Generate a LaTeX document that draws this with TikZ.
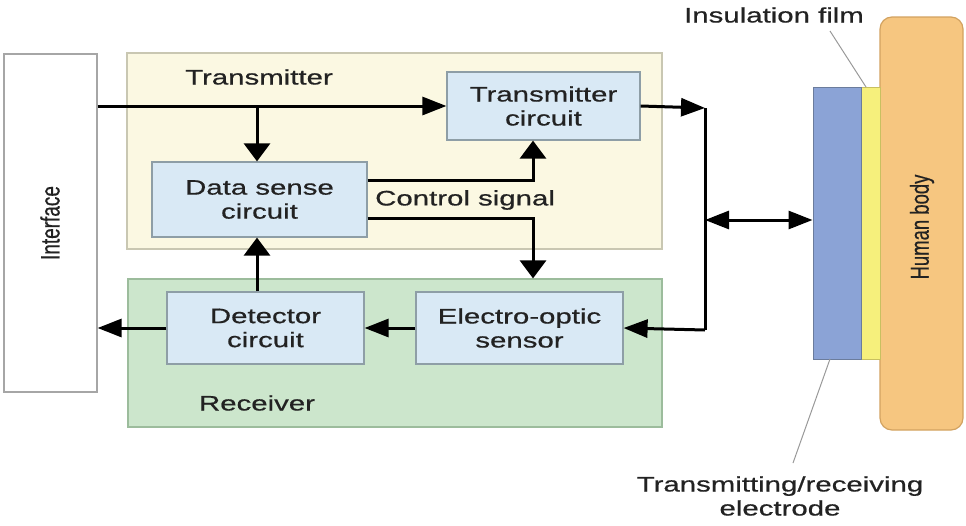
\documentclass[tikz,border=0pt]{standalone}
\usepackage{fontspec}
\setmainfont{Liberation Sans}
\newfontfamily\widefont[FakeStretch=1.4,FakeBold=0.6]{Liberation Sans}
\newfontfamily\rotfont[FakeBold=0.6]{Liberation Sans}
\usetikzlibrary{arrows.meta}
\definecolor{txtc}{HTML}{222222}
\definecolor{txfill}{HTML}{FBF8E2}
\definecolor{txdraw}{HTML}{C9C7B2}
\definecolor{rxfill}{HTML}{CCE6CC}
\definecolor{rxdraw}{HTML}{9CBC9C}
\definecolor{bxfill}{HTML}{D9E9F5}
\definecolor{bxdraw}{HTML}{8E9EA6}
\definecolor{elfill}{HTML}{8BA3D6}
\definecolor{eldraw}{HTML}{6B7C9C}
\definecolor{flfill}{HTML}{F6F07C}
\definecolor{fldraw}{HTML}{C8C060}
\definecolor{bdfill}{HTML}{F6C680}
\definecolor{bddraw}{HTML}{D2A260}
\tikzset{
  lbl/.style={text=txtc, font=\widefont\fontsize{21}{24}\selectfont, inner sep=0pt},
  inbox/.style={draw=bxdraw, fill=bxfill, line width=1.2pt, align=center, text=txtc,
    font=\widefont\fontsize{21}{24}\selectfont, inner sep=0pt},
  conn/.style={line width=3pt, black},
  htip/.tip={Triangle[length=24pt,width=18pt]},
  vtip/.tip={Triangle[length=18pt,width=26pt]},
  harr/.style={conn, -htip},
  varr/.style={conn, -vtip},
  leader/.style={draw=gray!80, line width=1pt}
}
\begin{document}
\begin{tikzpicture}[x=1pt,y=-1pt]
\useasboundingbox (0,0) rectangle (966,525);
% group boxes
\node[draw=txdraw, fill=txfill, line width=1.2pt, minimum width=535pt, minimum height=196pt, inner sep=0pt] (tx) at (394.5,151) {};
\node[draw=rxdraw, fill=rxfill, line width=1.2pt, minimum width=534pt, minimum height=148pt, inner sep=0pt] (rx) at (395,353) {};
\node[draw=gray!70, fill=white, line width=1.2pt, minimum width=93pt, minimum height=338pt, inner sep=0pt] (iface) at (50.5,223) {};
\node[rotate=90, text=txtc, inner sep=0pt] (ifacet) at (50,223) {\scalebox{1}[1.4]{\rotfont\fontsize{19}{19}\selectfont Interface}};
% labels
\node[lbl] (txl) at (259,77) {Transmitter};
\node[lbl] (rxl) at (257,403) {Receiver};
\node[lbl, anchor=west] (ctl) at (375,200) {Control signal};
% inner boxes
\node[inbox, minimum width=193pt, minimum height=68pt] (txc) at (543.5,106) {Transmitter\\circuit};
\node[inbox, minimum width=215pt, minimum height=75pt] (ds) at (259.5,199.5) {Data sense\\circuit};
\node[inbox, minimum width=197pt, minimum height=72pt] (det) at (265.5,328) {Detector\\circuit};
\node[inbox, minimum width=207pt, minimum height=72pt] (eo) at (519.5,328) {Electro-optic\\sensor};
% electrode, film, body
\node[draw=bddraw, fill=bdfill, line width=1.2pt, rounded corners=12pt, minimum width=83pt, minimum height=413pt, inner sep=0pt] (body) at (921.5,223.5) {};
\node[rotate=90, text=txtc, inner sep=0pt] (bodyt) at (922,227) {\scalebox{1}[1.4]{\rotfont\fontsize{18.5}{19}\selectfont Human body}};
\node[draw=fldraw, fill=flfill, line width=1pt, minimum width=19pt, minimum height=272pt, inner sep=0pt] (film) at (870.5,223) {};
\node[draw=eldraw, fill=elfill, line width=1pt, minimum width=48pt, minimum height=272pt, inner sep=0pt] (el) at (837,223) {};
% external labels
\node[lbl] (insl) at (774,15) {Insulation film};
\node[lbl, align=center] (ell) at (780,496) {Transmitting/receiving\\electrode};
\coordinate (insA) at (830,31);
\coordinate (insB) at (866,87);
\coordinate (elA) at (830,359);
\coordinate (elB) at (793,463);
\draw[leader] (insA) -- (insB);
\draw[leader] (elA) -- (elB);
% connectors
\coordinate (j1) at (257,108);
\coordinate (cu) at (533,180);
\coordinate (cd) at (533,218);
\coordinate (btop) at (705,108);
\coordinate (bmid) at (705,220);
\coordinate (bbot) at (705,330);
\draw[harr] (iface.east |- txc.west) -- (txc.west);
\draw[varr] (j1) -- (j1 |- ds.north);
\draw[varr] (ds.east |- cu) -- (cu) -- (cu |- txc.south);
\draw[varr] (ds.east |- cd) -- (cd) -- (cd |- rx.north);
\draw[varr] (j1 |- det.north) -- (j1 |- ds.south);
\draw[harr] (eo.west) -- (det.east);
\draw[harr] (det.west) -- (iface.east |- det.west);
\draw[harr] (txc.east) -- (btop);
\draw[conn] (btop) -- (bbot);
\draw[harr] (bbot) -- (eo.east);
\draw[conn, htip-htip] (bmid) -- (el.west |- bmid);
\end{tikzpicture}
\end{document}
